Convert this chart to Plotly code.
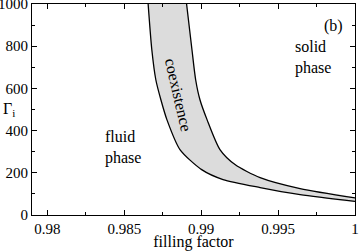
import plotly.graph_objects as go

# fluid-side boundary of the coexistence region
fluid_f = [0.98655, 0.98679, 0.98705, 0.98738, 0.98777, 0.98862, 0.99003, 0.99142, 0.99383, 0.99643, 1.0]
fluid_g = [1000, 783, 641, 546, 452, 310, 215, 168, 130, 97, 65]

# solid-side boundary of the coexistence region
solid_f = [0.98905, 0.9894, 0.98964, 0.98992, 0.99038, 0.99122, 0.9922, 0.99383, 0.99643, 1.0]
solid_g = [1000, 783, 641, 546, 452, 310, 239, 177, 125, 81]

x_ticks = [0.98, 0.985, 0.99, 0.995, 1.0]
x_labels = ["0.98", "0.985", "0.99", "0.995", "1"]
y_ticks = [0, 200, 400, 600, 800, 1000]
y_labels = ["0", "200", "400", "600", "800", "1000"]

FONT = "'Liberation Serif', 'Times New Roman', serif"
SMOOTH = 0.7

fig = go.Figure()

# shaded coexistence band
fig.add_trace(go.Scatter(
    x=solid_f + fluid_f[::-1],
    y=solid_g + fluid_g[::-1],
    fill="toself", fillcolor="rgb(220,220,220)",
    line=dict(width=0, shape="spline", smoothing=SMOOTH),
    mode="lines", hoverinfo="skip", showlegend=False,
))
fig.add_trace(go.Scatter(
    x=fluid_f, y=fluid_g, mode="lines",
    line=dict(color="black", width=1.3, shape="spline", smoothing=SMOOTH),
    showlegend=False,
))
fig.add_trace(go.Scatter(
    x=solid_f, y=solid_g, mode="lines",
    line=dict(color="black", width=1.3, shape="spline", smoothing=SMOOTH),
    showlegend=False,
))

axis_common = dict(
    showline=True, linecolor="black", linewidth=1, mirror="ticks",
    ticks="inside", ticklen=5, tickwidth=1, tickcolor="black",
    showgrid=False, zeroline=False, automargin=False,
    ticklabeloverflow="allow",
    tickfont=dict(family=FONT, size=15, color="black"),
)

fig.update_xaxes(
    range=[0.979, 1.0], tickvals=x_ticks, ticktext=x_labels,
    minor=dict(dtick=0.0025, ticks="inside", ticklen=3, tickcolor="black", showgrid=False),
    title=dict(text="filling factor", font=dict(family=FONT, size=16, color="black"), standoff=0),
    **axis_common,
)
fig.update_yaxes(
    range=[0, 1000], tickvals=y_ticks, ticktext=y_labels,
    minor=dict(dtick=100, ticks="inside", ticklen=3, tickcolor="black", showgrid=False),
    **axis_common,
)

tfont = dict(family=FONT, size=16, color="black")
annotations = [
    dict(text="Γ<sub>i</sub>", xref="paper", yref="y", x=-0.07, y=500,
         showarrow=False, font=dict(family=FONT, size=16, color="black"), xanchor="center"),
    dict(text="fluid<br>phase", xref="x", yref="y", x=0.9836, y=320,
         showarrow=False, font=tfont, xanchor="left", align="left"),
    dict(text="solid<br>phase", xref="x", yref="y", x=0.9960, y=745,
         showarrow=False, font=tfont, xanchor="left", align="left"),
    dict(text="(b)", xref="x", yref="y", x=0.99935, y=896,
         showarrow=False, font=tfont, xanchor="right"),
    dict(text="coexistence", xref="x", yref="y", x=0.9885, y=570,
         showarrow=False, font=tfont, textangle=77),
]

fig.update_layout(
    width=359, height=251,
    margin=dict(l=32, r=4, t=4, b=36, autoexpand=False),
    paper_bgcolor="white", plot_bgcolor="white",
    annotations=annotations,
    font=dict(family=FONT, color="black"),
)

fig.write_html(
    "out.html",
    config={"displayModeBar": False},
    post_script="document.body.style.margin='0';document.body.style.padding='0';",
)
